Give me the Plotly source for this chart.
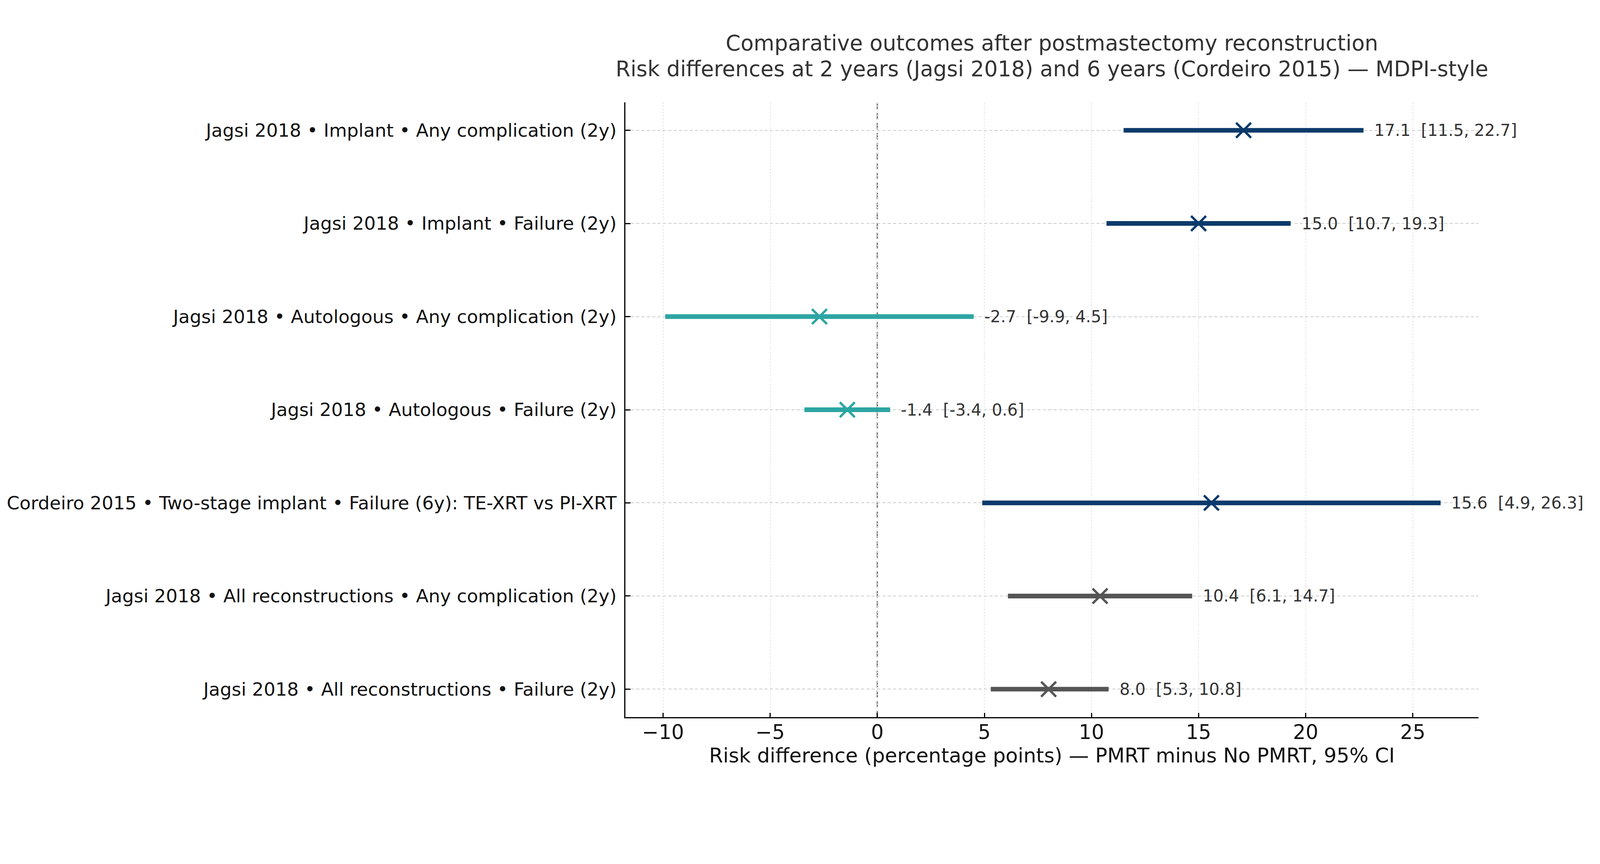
import plotly.graph_objects as go

labels = [
    "Jagsi 2018 • Implant • Any complication (2y)",
    "Jagsi 2018 • Implant • Failure (2y)",
    "Jagsi 2018 • Autologous • Any complication (2y)",
    "Jagsi 2018 • Autologous • Failure (2y)",
    "Cordeiro 2015 • Two-stage implant • Failure (6y): TE-XRT vs PI-XRT",
    "Jagsi 2018 • All reconstructions • Any complication (2y)",
    "Jagsi 2018 • All reconstructions • Failure (2y)",
]
estimates = [17.1, 15.0, -2.7, -1.4, 15.6, 10.4, 8.0]
ci_low = [11.5, 10.7, -9.9, -3.4, 4.9, 6.1, 5.3]
ci_high = [22.7, 19.3, 4.5, 0.6, 26.3, 14.7, 10.8]
groups = ["implant", "implant", "autologous", "autologous", "implant", "all", "all"]
x_ticks = [-10, -5, 0, 5, 10, 15, 20, 25]

title_line1 = "Comparative outcomes after postmastectomy reconstruction"
title_line2 = "Risk differences at 2 years (Jagsi 2018) and 6 years (Cordeiro 2015) — MDPI-style"
x_title = "Risk difference (percentage points) — PMRT minus No PMRT, 95% CI"

colors = {"implant": "#0B3A6B", "autologous": "#2CA5A3", "all": "#555555"}
FONT = "DejaVu Sans"

# page scale (the browser renders CSS px slightly larger than screen px)
S = 0.91
OFF_Y = 8 / S  # vertical page offset, in target px
W, H = 4490, 2212
PLOT_L, PLOT_R, PLOT_T, PLOT_B = 1750, 4150, 288, 2017

Wf = W
Hf = H - 2 * OFF_Y
ML = PLOT_L
MR = Wf - PLOT_R
MT = PLOT_T - OFF_Y
MB = Hf + OFF_Y - PLOT_B


def px(v):
    return v * S


fig = go.Figure()

for lab, est, lo, hi, g in zip(labels, estimates, ci_low, ci_high, groups):
    c = colors[g]
    fig.add_trace(go.Scatter(
        x=[lo, hi], y=[lab, lab], mode="lines",
        line=dict(color=c, width=px(13)), showlegend=False, hoverinfo="skip",
    ))
    fig.add_trace(go.Scatter(
        x=[est], y=[lab], mode="markers",
        marker=dict(symbol="x-thin", size=px(42), line=dict(color=c, width=px(6.5))),
        showlegend=False,
    ))
    fig.add_annotation(
        x=hi, y=lab, xref="x", yref="y",
        text=f"{est:.1f}\u00a0\u00a0[{lo:.1f}, {hi:.1f}]",
        showarrow=False, xanchor="left", yanchor="middle", xshift=px(28),
        font=dict(family=FONT, size=px(46), color="#333333"),
    )

fig.add_shape(
    type="line", xref="x", yref="paper", x0=0, x1=0, y0=0, y1=1,
    line=dict(color="#6a6a6a", width=px(3.5), dash=f"{px(18):.1f}px,{px(10):.1f}px"),
    layer="below",
)

plot_h = PLOT_B - PLOT_T
fig.add_annotation(
    x=0.5, y=1 + (PLOT_T - 194) / plot_h, xref="paper", yref="paper",
    text=title_line2, showarrow=False, xanchor="center", yanchor="middle",
    font=dict(family=FONT, size=px(60), color="#333333"),
)

fig.update_layout(
    width=round(px(Wf)), height=round(px(Hf)),
    paper_bgcolor="white", plot_bgcolor="white",
    margin=dict(l=px(ML), r=px(MR), t=px(MT), b=px(MB), autoexpand=False),
    title=dict(
        text=title_line1,
        x=0.5, xref="paper", xanchor="center",
        y=1 - (121 - OFF_Y) / Hf, yref="container", yanchor="middle",
        font=dict(family=FONT, size=px(60), color="#333333"),
    ),
    font=dict(family=FONT, color="#111111"),
)

fig.update_xaxes(
    range=[-11.76, 28.07],
    tickvals=x_ticks,
    showgrid=True, gridcolor="#e0e0e0", gridwidth=px(2),
    griddash=f"{px(4):.1f}px,{px(5):.1f}px",
    zeroline=False,
    showline=True, linecolor="black", linewidth=px(3.5),
    ticks="inside", ticklen=px(12), tickwidth=px(3), tickcolor="black",
    ticklabelstandoff=round(px(-9)),
    tickfont=dict(family=FONT, size=px(56), color="#111111"),
    title=dict(text=x_title,
               font=dict(family=FONT, size=px(56.5), color="#111111"), standoff=0),
    automargin=False,
)
fig.update_yaxes(
    type="category", categoryorder="array", categoryarray=labels,
    range=[6.3, -0.3],
    showgrid=True, gridcolor="#cccccc", gridwidth=px(2.5),
    griddash=f"{px(9):.1f}px,{px(6):.1f}px",
    zeroline=False,
    showline=True, linecolor="black", linewidth=px(3.5),
    ticks="inside", ticklen=px(14), tickwidth=px(3), tickcolor="black",
    ticklabelstandoff=round(px(11)),
    tickfont=dict(family=FONT, size=px(51.5), color="#111111"),
    automargin=False,
)

fig.write_html("out.html")
